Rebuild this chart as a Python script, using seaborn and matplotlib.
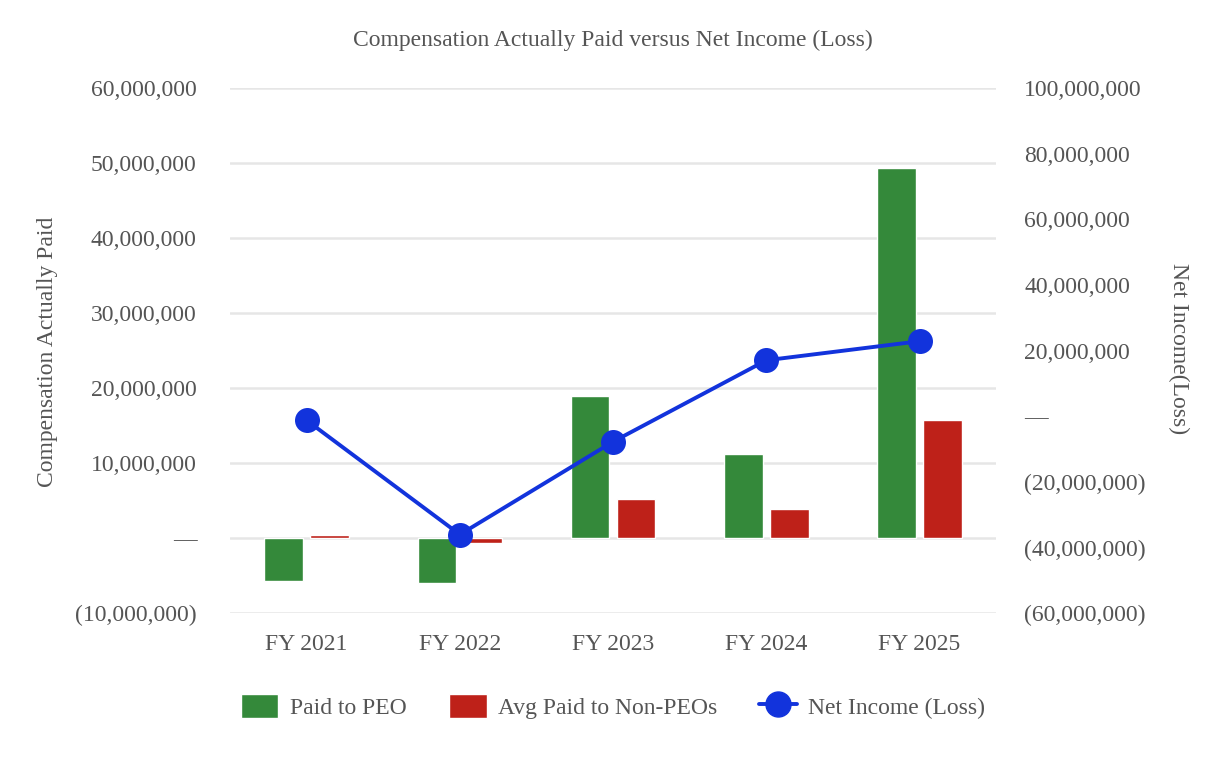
import matplotlib
matplotlib.use("Agg")
import matplotlib.pyplot as plt
import seaborn as sns
import pandas as pd
from matplotlib.ticker import FuncFormatter, MultipleLocator
from matplotlib.patches import Patch
from matplotlib.lines import Line2D

# dados
anos = ["FY 2021", "FY 2022", "FY 2023", "FY 2024", "FY 2025"]
pago_peo = [-5700000, -5900000, 19000000, 11300000, 49400000]
pago_nao_peo = [400000, -600000, 5200000, 3900000, 15800000]
lucro_liquido = [-1200000, -36000000, -7700000, 17100000, 22900000]

verde = "#34893A"
vermelho = "#BE2119"
azul = "#1233DC"
cinza = "#555555"

df = pd.DataFrame({
    "ano": anos * 2,
    "valor": pago_peo + pago_nao_peo,
    "serie": ["Paid to PEO"] * 5 + ["Avg Paid to Non-PEOs"] * 5,
})

sns.set_style("white")
plt.rcParams["font.family"] = ["Liberation Serif", "DejaVu Serif"]

fig = plt.figure(figsize=(12.26, 7.6), dpi=100)
ax = fig.add_axes([0.1876, 0.193, 0.625, 0.691])

sns.barplot(data=df, x="ano", y="valor", hue="serie",
            palette=[verde, vermelho], width=0.6, gap=0.167,
            ax=ax, legend=False, saturation=1)
ax.set_xlim(-0.5, 4.5)
ax.set_ylim(-10000000, 60000000)
ax.yaxis.set_major_locator(MultipleLocator(10000000))
ax.grid(axis="y", color="#E6E6E6", linewidth=1.8)
ax.set_axisbelow(True)


def fmt(v, pos):
    if abs(v) < 1:
        return "\u2014"
    if v < 0:
        return "({:,.0f})".format(-v)
    return "{:,.0f}".format(v)


ax.yaxis.set_major_formatter(FuncFormatter(fmt))
ax.set_xlabel("")
ax.set_ylabel("")
ax.tick_params(axis="both", length=0, labelsize=17, colors=cinza)
ax.tick_params(axis="y", pad=24)
ax.tick_params(axis="x", pad=15)

ax2 = ax.twinx()
sns.lineplot(x=anos, y=lucro_liquido, ax=ax2, color=azul, linewidth=2.8,
             marker="o", markersize=18, markeredgewidth=0, sort=False)
ax2.set_ylim(-60000000, 100000000)
ax2.yaxis.set_major_locator(MultipleLocator(20000000))
ax2.yaxis.set_major_formatter(FuncFormatter(fmt))
ax2.tick_params(axis="y", length=0, labelsize=17, colors=cinza, pad=20)
ax2.set_ylabel("")

for a in (ax, ax2):
    for s in a.spines.values():
        s.set_visible(False)

fig.text(0.5, 0.947, "Compensation Actually Paid versus Net Income (Loss)",
         ha="center", va="center", fontsize=17, color=cinza)
fig.text(0.039, 0.537, "Compensation Actually Paid", rotation=90,
         ha="center", va="center", fontsize=17, color=cinza)
fig.text(0.961, 0.542, "Net Income(Loss)", rotation=270,
         ha="center", va="center", fontsize=17, color=cinza)

handles = [
    Patch(facecolor=verde, label="Paid to PEO"),
    Patch(facecolor=vermelho, label="Avg Paid to Non-PEOs"),
    Line2D([0], [0], color=azul, linewidth=2.8, marker="o", markersize=18,
           label="Net Income (Loss)"),
]
leg = fig.legend(handles=handles, loc="center", bbox_to_anchor=(0.5, 0.071),
                 ncol=3, frameon=False, fontsize=17, handlelength=1.6,
                 handleheight=1.2, columnspacing=1.8, handletextpad=0.47)
for t in leg.get_texts():
    t.set_color(cinza)

fig.savefig("out.png", dpi=100)
